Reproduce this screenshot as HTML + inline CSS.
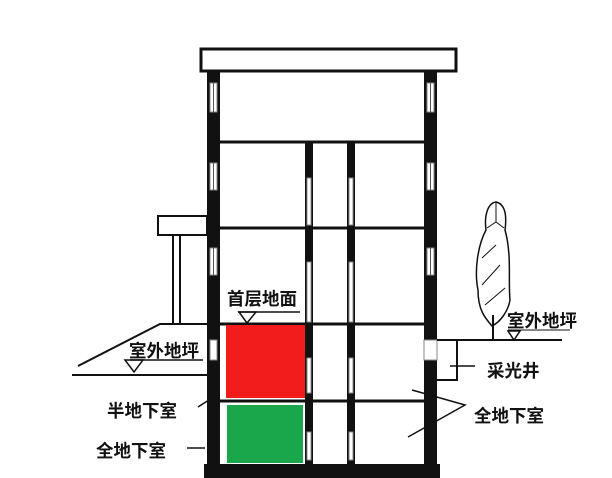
<!DOCTYPE html>
<html><head><meta charset="utf-8"><style>
html,body{margin:0;padding:0;background:#fff;width:612px;height:478px;overflow:hidden}
text{font-family:"Liberation Sans","Noto Sans CJK SC",sans-serif;font-size:17.5px;font-weight:bold;fill:#111}
</style></head><body>
<svg width="612" height="478" viewBox="0 0 612 478" xmlns="http://www.w3.org/2000/svg">
<g fill="#111">
<rect x="207" y="70" width="13" height="408"/>
<rect x="424" y="70" width="13" height="408"/>
<rect x="305" y="142" width="8" height="325"/>
<rect x="347" y="142" width="8" height="325"/>
<rect x="204" y="464" width="236" height="14"/>
</g>
<rect x="201" y="49" width="255" height="22" fill="#fff" stroke="#111" stroke-width="3"/>
<g stroke="#111" stroke-width="3">
<line x1="220" y1="142" x2="424" y2="142"/>
<line x1="220" y1="228" x2="424" y2="228"/>
<line x1="220" y1="324" x2="424" y2="324"/>
<line x1="220" y1="401" x2="424" y2="401"/>
</g>
<g fill="#fff" stroke="#888" stroke-width="1">
<rect x="210" y="83" width="7" height="29"/><rect x="210" y="163" width="7" height="27"/><rect x="210" y="248" width="7" height="27"/><rect x="210" y="340" width="7" height="20"/>
<rect x="427" y="83" width="7" height="29"/><rect x="427" y="163" width="7" height="27"/><rect x="427" y="248" width="7" height="27"/><rect x="424" y="340" width="13" height="20"/>
<rect x="307" y="178" width="4" height="47"/><rect x="307" y="262" width="4" height="60"/><rect x="307" y="358" width="4" height="35"/><rect x="307" y="432" width="4" height="28"/>
<rect x="349" y="178" width="4" height="47"/><rect x="349" y="262" width="4" height="60"/><rect x="349" y="358" width="4" height="35"/><rect x="349" y="432" width="4" height="28"/>
</g>
<g stroke="#555" stroke-width="1">
<line x1="213.5" y1="83" x2="213.5" y2="112"/><line x1="213.5" y1="163" x2="213.5" y2="190"/><line x1="213.5" y1="248" x2="213.5" y2="275"/>
<line x1="430.5" y1="83" x2="430.5" y2="112"/><line x1="430.5" y1="163" x2="430.5" y2="190"/><line x1="430.5" y1="248" x2="430.5" y2="275"/>
</g>
<rect x="226" y="325" width="79" height="73" fill="#f21c1c"/>
<rect x="227" y="405" width="76" height="58" fill="#1aa64a"/>
<g stroke="#111" stroke-width="2" fill="none">
<rect x="158" y="216" width="49" height="19" fill="#fff"/>
<line x1="173" y1="235" x2="173" y2="324"/><line x1="180" y1="235" x2="180" y2="324"/>
<polyline points="78,366 160,324 207,324"/>
<line x1="72" y1="375" x2="207" y2="375"/>
<line x1="130" y1="360" x2="203" y2="360" stroke-width="1.5"/>
<polygon points="125,360 143,360 134,372" stroke-width="1.5"/>
<line x1="238" y1="312" x2="300" y2="312" stroke-width="1.5"/>
<polygon points="239,312 256,312 247,323" stroke-width="1.5"/>
<line x1="198" y1="407" x2="212" y2="398" stroke-width="1.5"/>
<line x1="187" y1="448" x2="205" y2="448" stroke-width="1.5"/>
</g>
<g stroke="#111" stroke-width="2" fill="none">
<line x1="437" y1="340" x2="562" y2="340"/>
<polyline points="437,340 457,340 457,380 437,380"/>
<line x1="450" y1="366" x2="475" y2="366" stroke-width="1.5"/>
<line x1="508" y1="330" x2="570" y2="330" stroke-width="1"/>
<polygon points="508,331 520,331 514,340" stroke-width="1.5"/>
<line x1="493" y1="315" x2="493" y2="340"/>
<path d="M496,202 C505,204 507,215 505,230 C512,255 508,280 510,300 C508,312 500,322 492,326 C485,318 478,310 478,290 C474,270 478,245 486,230 C484,215 488,203 496,202 Z" stroke-width="1.5"/>
<path d="M487,228 L496,222 L504,228 M482,258 L496,245 M482,285 L500,265 M485,305 L505,288 M496,222 L496,202" stroke-width="1"/>
<polyline points="412,390 465,405 408,437" stroke-width="1.5"/>
</g>
<text x="227" y="305">首层地面</text>
<text x="129" y="357">室外地坪</text>
<text x="107" y="417">半地下室</text>
<text x="96" y="457">全地下室</text>
<text x="507" y="327">室外地坪</text>
<text x="487" y="377">采光井</text>
<text x="474" y="422">全地下室</text>
</svg>
</body></html>
